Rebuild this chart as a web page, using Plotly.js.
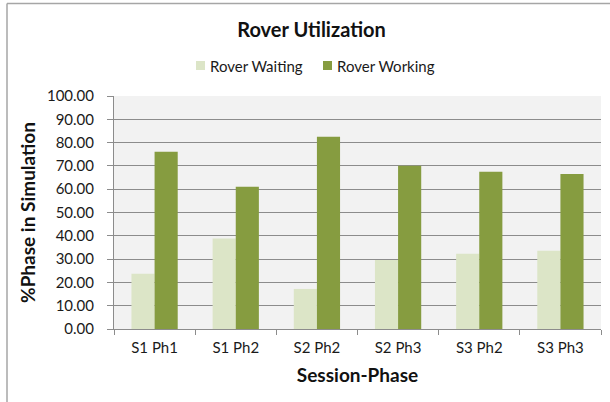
<!DOCTYPE html>
<html>
<head>
<meta charset="utf-8">
<script src="https://cdn.plot.ly/plotly-3.0.1.min.js"></script>
<style>html,body{margin:0;padding:0;background:#fff}#chart{width:610px;height:402px}</style>
</head>
<body>
<div id="chart"></div>
<script>
const categories = ["S1 Ph1", "S1 Ph2", "S2 Ph2", "S2 Ph3", "S3 Ph2", "S3 Ph3"];
const roverWaiting = [23.7, 38.8, 17.2, 29.6, 32.3, 33.6];
const roverWorking = [76.1, 61.1, 82.5, 70.1, 67.5, 66.5];
const seriesNames = ["Rover Waiting", "Rover Working"];
const seriesColors = ["#dce5c7", "#869c40"];
const yTickValues = [0, 10, 20, 30, 40, 50, 60, 70, 80, 90, 100];

const FONT = "Lato, 'Open Sans', sans-serif";

// plot area in pixels
const PL = 114, PR = 601, PT = 96, PB = 329;
const px2x = p => (p - PL) / (PR - PL);
const px2y = p => (PB - p) / (PB - PT);

const traces = [
  {type: "bar", name: seriesNames[0], x: categories, y: roverWaiting,
   marker: {color: seriesColors[0], line: {width: 0}}, showlegend: false},
  {type: "bar", name: seriesNames[1], x: categories, y: roverWorking,
   marker: {color: seriesColors[1], line: {width: 0}}, showlegend: false}
];

// manual legend (swatch + label)
const legendSwatchX = [196, 323];
const legendShapes = seriesNames.map((n, i) => ({
  type: "rect", xref: "paper", yref: "paper",
  x0: px2x(legendSwatchX[i]), x1: px2x(legendSwatchX[i] + 9),
  y0: px2y(70), y1: px2y(61),
  fillcolor: seriesColors[i], line: {width: 0}
}));
const legendAnnots = seriesNames.map((n, i) => ({
  xref: "paper", yref: "paper", x: px2x(legendSwatchX[i] + 12), y: px2y(66),
  xanchor: "left", yanchor: "middle", showarrow: false, text: n,
  font: {family: FONT, size: 15, color: "#1a1a1a"}
}));

const layout = {
  width: 610, height: 402,
  paper_bgcolor: "#ffffff",
  plot_bgcolor: "#f2f2f2",
  margin: {l: PL, r: 610 - PR, t: PT, b: 402 - PB},
  font: {family: FONT, size: 15, color: "#1a1a1a"},
  title: {text: "<b>Rover Utilization</b>", font: {family: FONT, size: 20, color: "#111"},
          xref: "container", x: 311.5/610, xanchor: "center", yref: "container", y: 1 - 30/402, yanchor: "middle"},
  showlegend: false,
  barmode: "group",
  bargap: 0.43,
  bargroupgap: 0,
  xaxis: {
    type: "category",
    showline: true, linecolor: "#8c8c8c", linewidth: 1,
    ticks: "outside", ticklen: 5, tickcolor: "#8c8c8c", tickson: "boundaries",
    showgrid: false,
    ticklabelstandoff: 5,
    tickfont: {family: FONT, size: 15, color: "#1a1a1a"},
    title: {text: "<b>Session-Phase</b>", font: {family: FONT, size: 19, color: "#111"}, standoff: 13}
  },
  yaxis: {
    range: [0, 100],
    tickvals: yTickValues,
    tickformat: ".2f",
    showline: true, linecolor: "#8c8c8c", linewidth: 1,
    ticks: "outside", ticklen: 6, tickcolor: "#8c8c8c",
    showgrid: true, gridcolor: "#8c8c8c", gridwidth: 1,
    zeroline: false,
    ticklabelstandoff: 10,
    tickfont: {family: FONT, size: 15, color: "#1a1a1a"},
    title: {text: "<b>%Phase in Simulation</b>", font: {family: FONT, size: 19, color: "#111"}, standoff: 6}
  },
  annotations: legendAnnots,
  shapes: [
    {type: "line", xref: "paper", yref: "paper", x0: px2x(7), x1: px2x(610),
     y0: px2y(3.5), y1: px2y(3.5), line: {color: "#a6a6a6", width: 1.5}},
    {type: "line", xref: "paper", yref: "paper", x0: px2x(7), x1: px2x(7),
     y0: px2y(3.5), y1: px2y(402), line: {color: "#a6a6a6", width: 1.5}}
  ].concat(legendShapes)
};

Plotly.newPlot("chart", traces, layout, {displayModeBar: false, staticPlot: true});
</script>
</body>
</html>
